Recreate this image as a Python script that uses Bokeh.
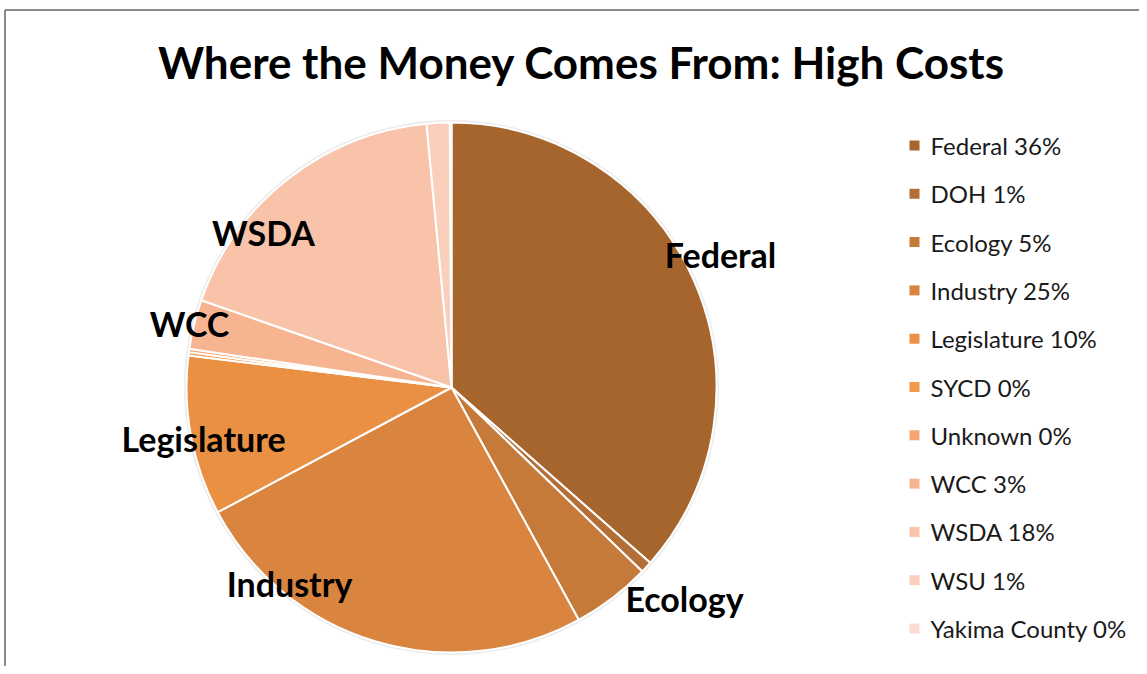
import math
from bokeh.plotting import figure
from bokeh.models import Range1d, ColumnDataSource
from bokeh.core.properties import value
from bokeh.embed import file_html
from bokeh.resources import INLINE

# ---- data ----
categories = ["Federal", "DOH", "Ecology", "Industry", "Legislature", "SYCD",
              "Unknown", "WCC", "WSDA", "WSU", "Yakima County"]
shares = [36.4, 0.7, 4.8, 25.1, 9.7, 0.2, 0.2, 3.0, 18.1, 1.4, 0.1]
legend_pct = ["36%", "1%", "5%", "25%", "10%", "0%", "0%", "3%", "18%", "1%", "0%"]
colors = ["#A5652D", "#B36F35", "#C67A3A", "#D9843F", "#E99043", "#F29A48",
          "#F4A674", "#F6B590", "#F8C3A8", "#FACFBB", "#FCDBD0"]
slice_labels = ["Federal", "Ecology", "Industry", "Legislature", "WCC", "WSDA"]
title_text = "Where the Money Comes From: High Costs"

# ---- layout ----
W, H = 1139, 666
OX, OY = 0, 0

def px(x):
    return x - OX

def py(y):
    return H - (y - OY)

cx, cy, R = px(451), py(387), 265

p = figure(width=W, height=H, output_backend="svg", toolbar_location=None,
           x_range=Range1d(0, W), y_range=Range1d(0, H), min_border=0)
p.axis.visible = False
p.grid.visible = False
p.outline_line_color = None
p.background_fill_color = "white"

# border (left and top only visible)
p.segment(x0=[px(4.5), px(4.5)], y0=[0, py(9.5)], x1=[px(4.5), W],
          y1=[py(9.5), py(9.5)], line_color="#8a8a8a", line_width=2)

# pie
total = sum(shares)
starts, ends = [], []
acc = 0.0
for s in shares:
    a0 = math.pi / 2 - 2 * math.pi * acc / total
    acc += s
    a1 = math.pi / 2 - 2 * math.pi * acc / total
    starts.append(a0)
    ends.append(a1)

src = ColumnDataSource(dict(cat=categories, start=starts, end=ends, color=colors))
p.circle(x=[cx], y=[cy], radius=R + 2.5, fill_color="#ececec", line_color=None)
p.wedge(x=cx, y=cy, radius=R, start_angle="start", end_angle="end",
        direction="clock", fill_color="color", line_color="white", line_width=2,
        source=src)

# slice labels (placed as in reference)
lab_pos = {"Federal": (720, 254), "Ecology": (684, 598), "Industry": (289, 583),
           "Legislature": (203, 438), "WCC": (189, 323), "WSDA": (263, 232)}
p.text(x=[px(lab_pos[c][0]) for c in slice_labels],
       y=[py(lab_pos[c][1]) for c in slice_labels],
       text=slice_labels, text_font=value("Lato"), text_font_style="bold",
       text_font_size="34px", text_align="center", text_baseline="middle",
       text_color="black")

# title
p.text(x=[px(581)], y=[py(61)], text=[title_text], text_font=value("Lato"),
       text_font_style="bold", text_font_size="44px", text_align="center",
       text_baseline="middle", text_color="black")

# legend
leg_y0, leg_dy = 145, 48.3
ly = [py(leg_y0 + i * leg_dy) for i in range(len(categories))]
p.rect(x=[px(914)] * len(categories), y=ly, width=10, height=10,
       fill_color=colors, line_color=None)
p.text(x=[px(930)] * len(categories), y=ly,
       text=[f"{c} {v}" for c, v in zip(categories, legend_pct)],
       text_font=value("Lato"), text_font_size="24px", text_align="left",
       text_baseline="middle", text_color="#1a1a1a")

open("out.html", "w").write(file_html(p, INLINE))
